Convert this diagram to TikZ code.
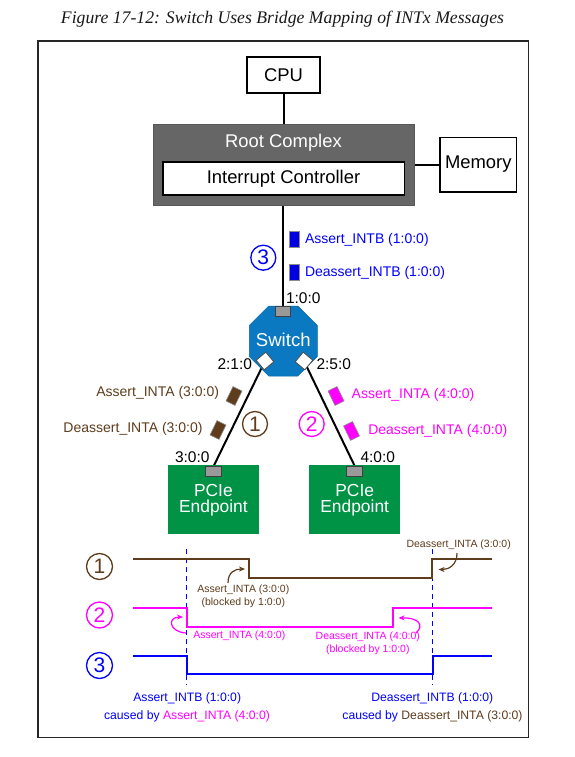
\documentclass[tikz,border=0pt]{standalone}
\usepackage{fontspec}
\usepackage{graphicx}
\setsansfont{Liberation Sans}
\newfontfamily\titlefont{Liberation Serif}
\usetikzlibrary{shapes.geometric,arrows.meta}
\newcommand\fsz[1]{\fontsize{#1}{#1}\selectfont}
\newcommand\fszb[2]{\fontsize{#1}{#2}\selectfont}
\definecolor{brn}{HTML}{5E3C1C}
\definecolor{mag}{HTML}{FF00FF}
\definecolor{blu}{HTML}{0000FF}
\definecolor{mblu}{HTML}{0000E0}
\definecolor{swblue}{HTML}{0B79C1}
\definecolor{epgreen}{HTML}{009245}
\definecolor{rcgray}{HTML}{666666}
\definecolor{portgray}{HTML}{999999}
\pgfdeclarelayer{bg}
\pgfsetlayers{bg,main}
\begin{document}
\begin{tikzpicture}[x=1pt,y=-1pt,
  every node/.style={font=\sffamily, inner sep=0pt, outer sep=0pt},
  blk/.style={draw=black, line width=1.6pt, fill=white},
  bigtxt/.style={font=\sffamily\fsz{18.4}},
  link/.style={line width=2pt, black},
  port/.style={draw=black!75, line width=0.8pt, fill=portgray, minimum width=15pt, minimum height=10pt},
  dport/.style={draw=black!70, line width=0.8pt, fill=white, minimum size=12.5pt},
  msg/.style={draw=black!45, line width=0.6pt, minimum width=10pt, minimum height=16pt},
  lbl/.style={font=\sffamily\fsz{14}},
  plbl/.style={font=\sffamily\fsz{15.5}},
  num/.style={circle, draw, line width=1.3pt, minimum size=25pt, font=\sffamily\fsz{21}},
  tnum/.style={num, minimum size=26pt},
  tl/.style={font=\sffamily\fszb{10.5}{13}, align=center},
  bl/.style={font=\sffamily\fsz{12.2}, align=center},
  wave/.style={line width=2pt},
  guide/.style={blu, line width=1pt, dash pattern=on 5pt off 4pt},
  carrow/.style={line width=1.2pt, -{Stealth[length=6pt,width=5pt]}}
]
\useasboundingbox (0,0) rectangle (574,757);
% title and frame
\node[text=black!90] (title) at (282.5,19) {\resizebox{443pt}{!}{\titlefont\itshape Figure 17-12: Switch Uses Bridge Mapping of INTx Messages}};
\draw[line width=1.5pt, black!85] (38,41) rectangle (528.5,737.5);

% top part
\node[blk, bigtxt, minimum width=73pt, minimum height=35.5pt] (cpu) at (283.5,75) {CPU};
\node[draw=rcgray!85!black, fill=rcgray, line width=1pt, minimum width=261pt, minimum height=80.3pt] (rc) at (283.8,164.9) {};
\node[bigtxt, text=white] (rctxt) at (283.5,142.3) {Root Complex};
\node[blk, bigtxt, minimum width=241.6pt, minimum height=33.3pt] (ic) at (283.5,178.4) {Interrupt Controller};
\node[blk, bigtxt, minimum width=76.7pt, minimum height=54.4pt] (mem) at (478.3,164.5) {Memory};

% switch (octagon)
\draw[fill=swblue, draw=swblue!85!black, line width=0.5pt]
  (268.8,306) -- (297.8,306) -- (317.3,325.5) -- (317.3,356.5) -- (297.8,376)
  -- (268.8,376) -- (249.3,356.5) -- (249.3,325.5) -- cycle;
\node[text=white, font=\sffamily\fsz{18.6}] (sw) at (283.3,339.8) {Switch};
\node[port] (p100) at (283.3,311.7) {};
\node[dport, rotate=40] (p210) at (265,361) {};
\node[dport, rotate=-40] (p250) at (304,361) {};

% endpoints
\node[fill=epgreen, minimum width=91.3pt, minimum height=69pt] (ep1) at (213.4,499.5) {};
\node[fill=epgreen, minimum width=91.3pt, minimum height=69pt] (ep2) at (354.7,499.5) {};
\node[text=white, font=\sffamily\fszb{17.4}{16}, align=center] (ep1t) at (213.4,500.6) {PCIe\\Endpoint};
\node[text=white, font=\sffamily\fszb{17.4}{16}, align=center] (ep2t) at (354.7,500.6) {PCIe\\Endpoint};
\node[port, minimum width=16pt] (p300) at (213.7,471) {};
\node[port, minimum width=16pt] (p400) at (354.7,471) {};

% links (behind nodes)
\begin{pgfonlayer}{bg}
\draw[link] (cpu.south) -- (cpu.south |- rc.north);
\draw[link] (mem.west) -- (mem.west -| rc.east);
\draw[link] (p100.north |- rc.south) -- (p100.north);
\draw[link] (p210.center) -- (p300.north);
\draw[link] (p250.center) -- (p400.north);
\end{pgfonlayer}

% port labels
\node[plbl, anchor=west] (l100) at (286,298.3) {1:0:0};
\node[plbl, anchor=east] (l210) at (252,364.3) {2:1:0};
\node[plbl, anchor=west] (l250) at (316.5,364.3) {2:5:0};
\node[plbl, anchor=east] (l300) at (209.5,457.5) {3:0:0};
\node[plbl, anchor=west] (l400) at (360.5,457.5) {4:0:0};

% messages
\node[msg, fill=mblu] (mb1) at (294,239.7) {};
\node[msg, fill=mblu] (mb2) at (294,272.7) {};
\node[lbl, text=blu, anchor=west] (tb1) at (305,239.5) {Assert\_INTB (1:0:0)};
\node[lbl, text=blu, anchor=west] (tb2) at (305,273.3) {Deassert\_INTB (1:0:0)};
\node[num, draw=blu, text=blu] (n3) at (263.3,257.7) {3};

\node[msg, fill=brn, rotate=-26] (ma1) at (234,396) {};
\node[msg, fill=brn, rotate=-26] (ma2) at (218,430) {};
\node[msg, fill=mag, rotate=26] (mm1) at (336,396) {};
\node[msg, fill=mag, rotate=26] (mm2) at (351.5,431) {};
\node[lbl, text=brn, anchor=east] (ta1) at (219,392.7) {Assert\_INTA (3:0:0)};
\node[lbl, text=brn, anchor=east] (ta2) at (202.5,429.3) {Deassert\_INTA (3:0:0)};
\node[lbl, text=mag, anchor=west] (tm1) at (351.7,395) {Assert\_INTA (4:0:0)};
\node[lbl, text=mag, anchor=west] (tm2) at (368.3,431) {Deassert\_INTA (4:0:0)};
\node[num, draw=brn, text=brn] (n1) at (255,424) {1};
\node[num, draw=mag, text=mag] (n2) at (311.7,424) {2};

% timing diagram
\node[tnum, draw=brn, text=brn] (t1) at (99.5,566.5) {1};
\node[tnum, draw=mag, text=mag] (t2) at (99.5,615) {2};
\node[tnum, draw=blu, text=blu] (t3) at (99.5,665.5) {3};

\draw[guide] (186.7,549) -- (186.7,685);
\draw[guide] (432.5,549) -- (432.5,685);

\draw[wave, brn] (133.3,559.3) -- (249.3,559.3) -- (249.3,578.3) -- (432.3,578.3) -- (432.3,559.3) -- (492.3,559.3);
\draw[wave, mag] (133.3,608.3) -- (186.7,608.3) -- (186.7,626.7) -- (393.3,626.7) -- (393.3,608.3) -- (492.3,608.3);
\draw[wave, blu] (133.3,656) -- (186.7,656) -- (186.7,674.3) -- (432.5,674.3) -- (432.5,656) -- (492.3,656);

\node[tl, text=brn] (d3) at (458.7,544.3) {Deassert\_INTA (3:0:0)};
\node[tl, text=brn] (a3) at (243.3,596.5) {Assert\_INTA (3:0:0)\\(blocked by 1:0:0)};
\node[tl, text=mag, anchor=west] (a4) at (193.3,635.5) {Assert\_INTA (4:0:0)};
\node[tl, text=mag] (d4) at (367.8,643.5) {Deassert\_INTA (4:0:0)\\(blocked by 1:0:0)};

\coordinate (ad3) at (457,553);
\coordinate (aa3) at (228,583);
\coordinate (aa4) at (186,633);
\coordinate (ad4) at (416,633);
\draw[carrow, brn] (ad3) .. controls (457,565) and (449,569.5) .. (438.5,569.5);
\draw[carrow, brn] (aa3) .. controls (228,572) and (235,569) .. (245,569);
\draw[carrow, mag] (aa4) .. controls (169,632) and (167,617) .. (183,617);
\draw[carrow, mag] (ad4) .. controls (424,626) and (420,617.5) .. (398.5,618);

\node[bl, text=blu] (b1) at (187.2,698.3) {Assert\_INTB (1:0:0)};
\node[bl, text=blu] (b2) at (187,716) {caused by \textcolor{mag}{Assert\_INTA (4:0:0)}};
\node[bl, text=blu] (b3) at (432.3,698.3) {Deassert\_INTB (1:0:0)};
\node[bl, text=blu] (b4) at (432.5,716) {caused by \textcolor{brn}{Deassert\_INTA (3:0:0)}};
\end{tikzpicture}
\end{document}
